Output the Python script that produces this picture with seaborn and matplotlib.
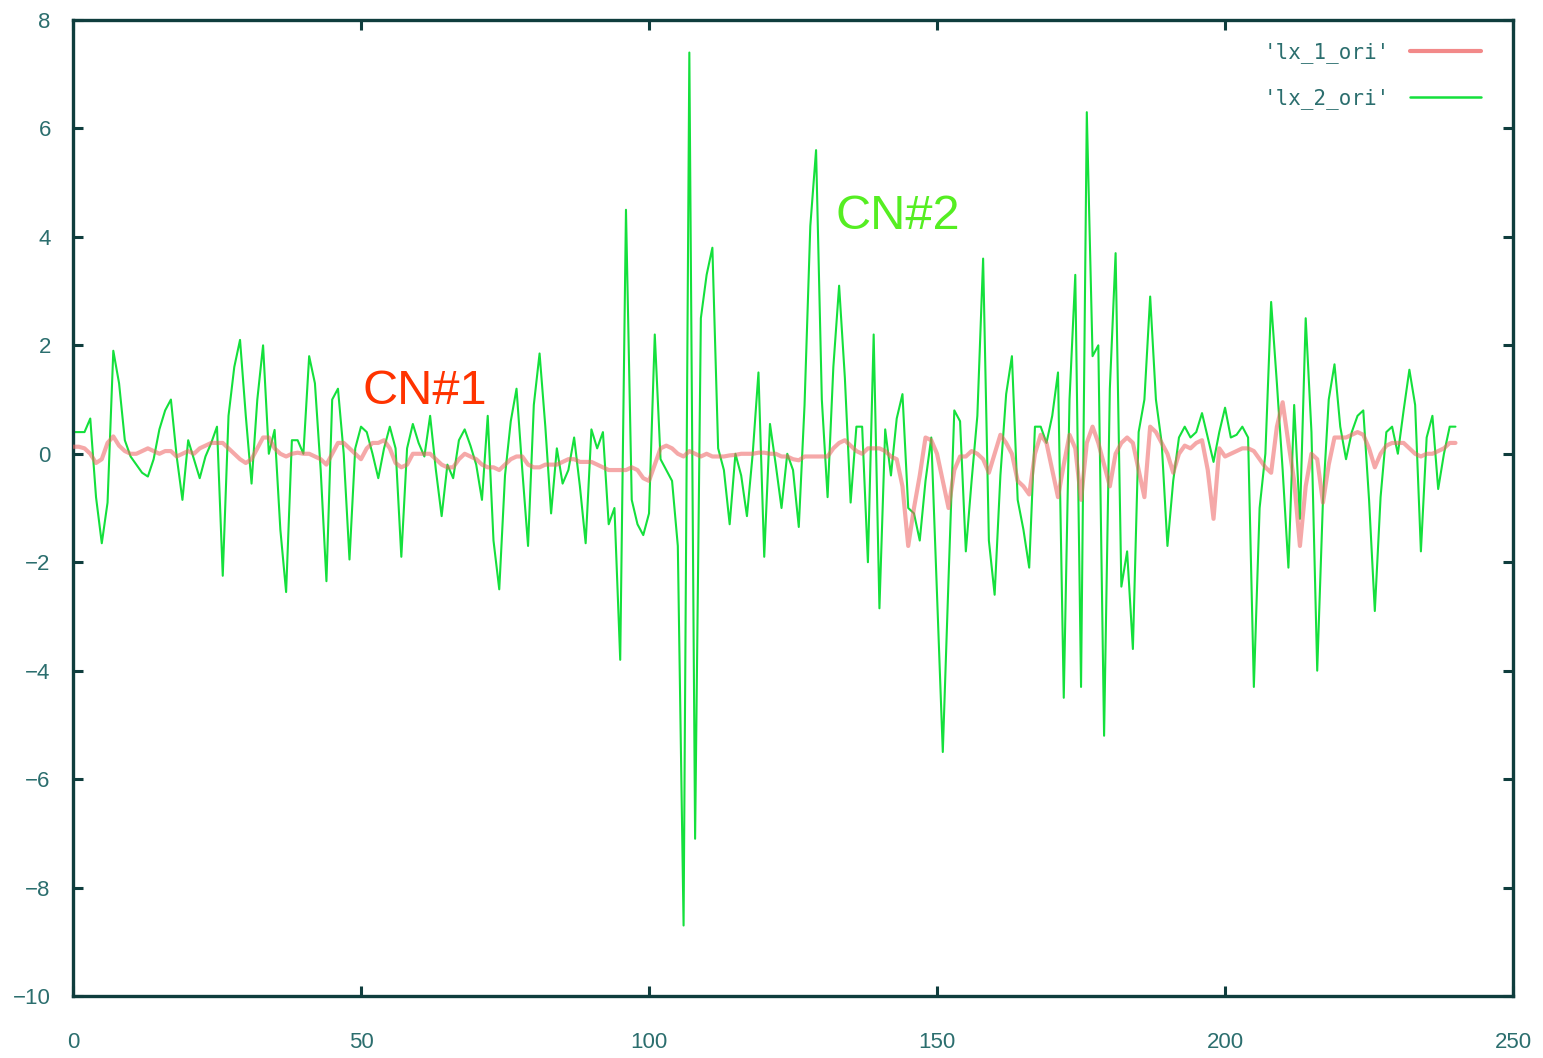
import numpy as np
import pandas as pd
import matplotlib
matplotlib.use("Agg")
import matplotlib.pyplot as plt
import seaborn as sns

# sample index shared by both traces
sample = list(range(241))

# 'lx_1_ori' : smoothed original trace
lx_1_ori = [
    0.13, 0.13, 0.10, 0.00, -0.17, -0.10, 0.20, 0.32, 0.15, 0.05,
    0.00, 0.00, 0.05, 0.10, 0.05, 0.00, 0.05, 0.05, -0.05, 0.00,
    0.05, 0.00, 0.10, 0.15, 0.20, 0.20, 0.20, 0.10, 0.00, -0.10,
    -0.17, -0.10, 0.10, 0.30, 0.30, 0.10, 0.00, -0.05, 0.00, 0.02,
    0.00, 0.00, -0.05, -0.10, -0.20, 0.00, 0.20, 0.20, 0.10, 0.00,
    -0.10, 0.10, 0.20, 0.20, 0.25, 0.10, -0.17, -0.25, -0.20, 0.00,
    0.00, 0.00, 0.00, -0.10, -0.20, -0.25, -0.25, -0.10, 0.00, -0.05,
    -0.10, -0.20, -0.25, -0.25, -0.30, -0.20, -0.10, -0.05, -0.05, -0.20,
    -0.25, -0.25, -0.20, -0.20, -0.20, -0.15, -0.10, -0.10, -0.15, -0.15,
    -0.15, -0.20, -0.25, -0.30, -0.30, -0.30, -0.30, -0.25, -0.30, -0.45,
    -0.50, -0.20, 0.10, 0.15, 0.10, 0.00, -0.05, 0.05, 0.00, -0.05,
    0.00, -0.05, -0.05, -0.05, -0.03, -0.02, 0.00, 0.00, 0.00, 0.02,
    0.02, 0.00, 0.00, -0.05, -0.05, -0.10, -0.12, -0.05, -0.05, -0.05,
    -0.05, -0.05, 0.10, 0.20, 0.25, 0.15, 0.05, 0.00, 0.10, 0.10,
    0.10, 0.05, -0.05, -0.10, -0.60, -1.70, -1.00, -0.40, 0.30, 0.25,
    0.00, -0.50, -1.00, -0.30, -0.05, -0.05, 0.05, 0.00, -0.10, -0.35,
    0.00, 0.35, 0.20, 0.00, -0.50, -0.60, -0.75, 0.00, 0.35, 0.20,
    -0.30, -0.80, -0.20, 0.35, 0.10, -0.85, 0.20, 0.50, 0.20, -0.20,
    -0.60, 0.00, 0.20, 0.30, 0.20, -0.30, -0.80, 0.50, 0.40, 0.20,
    0.00, -0.35, 0.00, 0.15, 0.10, 0.20, 0.25, -0.30, -1.20, 0.10,
    -0.05, 0.00, 0.05, 0.10, 0.10, 0.05, -0.10, -0.25, -0.35, 0.50,
    0.95, 0.20, -0.50, -1.70, -0.60, 0.00, -0.10, -0.90, -0.20, 0.30,
    0.30, 0.30, 0.35, 0.40, 0.35, 0.10, -0.25, 0.00, 0.15, 0.20,
    0.20, 0.20, 0.10, 0.00, -0.05, 0.00, 0.00, 0.05, 0.10, 0.20,
    0.20,
]

# 'lx_2_ori' : raw original trace
lx_2_ori = [
    0.40, 0.40, 0.40, 0.65, -0.80, -1.65, -0.90, 1.90, 1.30, 0.25,
    -0.05, -0.20, -0.35, -0.42, -0.10, 0.45, 0.80, 1.00, -0.05, -0.85,
    0.25, -0.10, -0.45, -0.05, 0.20, 0.50, -2.25, 0.70, 1.60, 2.10,
    0.70, -0.55, 1.00, 2.00, 0.00, 0.44, -1.40, -2.55, 0.25, 0.25,
    0.00, 1.80, 1.30, -0.30, -2.35, 1.00, 1.20, 0.00, -1.95, 0.10,
    0.50, 0.40, 0.00, -0.45, 0.10, 0.50, 0.10, -1.90, 0.10, 0.55,
    0.20, -0.05, 0.70, -0.30, -1.15, -0.20, -0.45, 0.25, 0.45, 0.15,
    -0.20, -0.85, 0.70, -1.60, -2.50, -0.40, 0.60, 1.20, -0.30, -1.70,
    0.90, 1.85, 0.50, -1.10, 0.10, -0.55, -0.30, 0.30, -0.60, -1.65,
    0.45, 0.10, 0.40, -1.30, -1.00, -3.80, 4.50, -0.85, -1.30, -1.50,
    -1.10, 2.20, -0.10, -0.30, -0.50, -1.70, -8.70, 7.40, -7.10, 2.50,
    3.30, 3.80, 0.10, -0.30, -1.30, 0.00, -0.40, -1.15, 0.00, 1.50,
    -1.90, 0.55, -0.20, -1.00, 0.00, -0.30, -1.35, 0.90, 4.20, 5.60,
    1.00, -0.80, 1.60, 3.10, 1.40, -0.90, 0.50, 0.50, -2.00, 2.20,
    -2.85, 0.45, -0.40, 0.65, 1.10, -1.00, -1.10, -1.60, -0.50, 0.30,
    -2.60, -5.50, -2.30, 0.80, 0.60, -1.80, -0.50, 0.70, 3.60, -1.60,
    -2.60, -0.40, 1.10, 1.80, -0.85, -1.40, -2.10, 0.50, 0.50, 0.20,
    0.70, 1.50, -4.50, 1.00, 3.30, -4.30, 6.30, 1.80, 2.00, -5.20,
    1.20, 3.70, -2.45, -1.80, -3.60, 0.40, 1.00, 2.90, 1.00, 0.20,
    -1.70, -0.50, 0.30, 0.50, 0.30, 0.40, 0.75, 0.30, -0.15, 0.40,
    0.85, 0.30, 0.35, 0.50, 0.30, -4.30, -1.00, 0.00, 2.80, 1.30,
    -0.30, -2.10, 0.90, -1.20, 2.50, 0.40, -4.00, -0.85, 1.00, 1.65,
    0.50, -0.10, 0.40, 0.70, 0.80, -0.85, -2.90, -0.80, 0.40, 0.50,
    0.00, 0.80, 1.55, 0.90, -1.80, 0.30, 0.70, -0.65, 0.00, 0.50,
    0.50,
]

series_names = ["'lx_1_ori'", "'lx_2_ori'"]
series_colors = {"'lx_1_ori'": "#ee6262", "'lx_2_ori'": "#14e03c"}

x_ticks = [0, 50, 100, 150, 200, 250]
y_ticks = [-10, -8, -6, -4, -2, 0, 2, 4, 6, 8]

df = pd.DataFrame({
    "sample": sample * 2,
    "value": lx_1_ori + lx_2_ori,
    "trace": [series_names[0]] * len(sample) + [series_names[1]] * len(sample),
})

sns.set_style("white")
frame_col = "#0f3d3d"
label_col = "#2b6e6e"

fig = plt.figure(figsize=(15.43, 10.58), dpi=100)
ax = fig.add_axes([0.0473, 0.0586, 0.9333, 0.9225])

# raw trace first, smoothed trace blended over it
sns.lineplot(data=df[df["trace"] == series_names[1]], x="sample", y="value",
             color=series_colors[series_names[1]], linewidth=1.5, ax=ax,
             zorder=2, legend=False)
sns.lineplot(data=df[df["trace"] == series_names[0]], x="sample", y="value",
             color=series_colors[series_names[0]], linewidth=3.0, alpha=0.55,
             ax=ax, zorder=3, legend=False)

ax.set_xlim(0, 250)
ax.set_ylim(-10, 8)
ax.set_xticks(x_ticks)
ax.set_yticks(y_ticks)
ax.set_xlabel("")
ax.set_ylabel("")

for side in ax.spines.values():
    side.set_visible(True)
    side.set_color(frame_col)
    side.set_linewidth(2.4)

ax.tick_params(axis="both", direction="in", length=7, width=2.2,
               color=frame_col, top=True, right=True, bottom=True, left=True,
               labelsize=16, labelcolor=label_col)
ax.tick_params(axis="x", pad=26)
ax.tick_params(axis="y", pad=16)
for lab in ax.get_xticklabels() + ax.get_yticklabels():
    lab.set_family("Liberation Sans")

# legend in the upper right, label text before the line sample
handles = [
    plt.Line2D([], [], color=series_colors[series_names[0]], lw=3.0, alpha=0.75),
    plt.Line2D([], [], color=series_colors[series_names[1]], lw=1.8),
]
leg = ax.legend(handles, series_names, loc="upper right",
                bbox_to_anchor=(0.985, 0.988), frameon=False,
                markerfirst=False, handlelength=3.4, handletextpad=1.0,
                labelspacing=1.2, borderpad=0.0,
                prop={"family": "DejaVu Sans Mono", "size": 15})
for t in leg.get_texts():
    t.set_color(label_col)

ax.text(61, 1.14, "CN#1", color="#ff3300", fontsize=35,
        family="Liberation Sans", ha="center", va="center", zorder=5)
ax.text(143.2, 4.37, "CN#2", color="#55ee22", fontsize=35,
        family="Liberation Sans", ha="center", va="center", zorder=5)

fig.savefig("out.png", dpi=100, facecolor="white")
